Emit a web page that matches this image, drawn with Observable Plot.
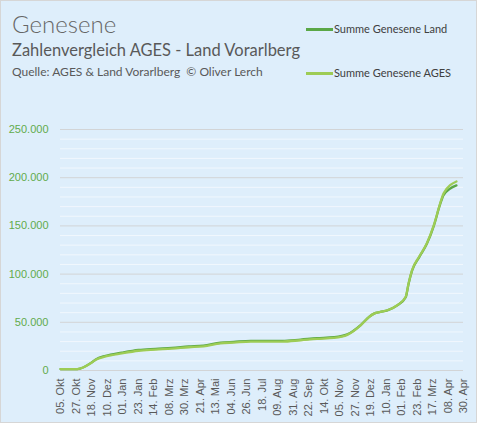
<!DOCTYPE html>
<html>
<head>
<meta charset="utf-8">
<script src="https://cdn.jsdelivr.net/npm/d3@7"></script>
<script src="https://cdn.jsdelivr.net/npm/@observablehq/plot@0.6"></script>
<style>
  html, body { margin: 0; padding: 0; background: #ffffff; }
  #wrap { position: relative; width: 479px; height: 425px; overflow: hidden; }
  #box { position: absolute; left: 0; top: 0; width: 475px; height: 421px; border: 1px solid #d6d6d6; background: #deeefb; }
  #chart { position: absolute; left: 0; top: 0; }
  .t { position: absolute; font-family: Lato, "Open Sans", sans-serif; color: #595959; white-space: nowrap; line-height: 1; }
  #title { left: 12px; top: 12px; font-size: 24px; font-weight: 300; color: #666666; }
  #subtitle { left: 12px; top: 42px; font-size: 16.5px; }
  #source { left: 12px; top: 66px; font-size: 12px; }
  .leg { position: absolute; font-family: Lato, "Open Sans", sans-serif; font-size: 11px; color: #404040; white-space: nowrap; line-height: 1; }
  .sw { position: absolute; width: 27px; height: 2.5px; }
</style>
</head>
<body>
<div id="wrap">
  <div id="box"></div>
  <div id="chart"></div>
  <div class="t" id="title">Genesene</div>
  <div class="t" id="subtitle">Zahlenvergleich AGES - Land Vorarlberg</div>
  <div class="t" id="source">Quelle: AGES &amp; Land Vorarlberg &nbsp;© Oliver Lerch</div>
  <div class="sw" style="left:306px; top:28px; background:#5aa746"></div>
  <div class="leg" style="left:334px; top:23px">Summe Genesene Land</div>
  <div class="sw" style="left:306px; top:72px; background:#9dcc55"></div>
  <div class="leg" style="left:334px; top:67px">Summe Genesene AGES</div>
</div>
<script>
// ---- data ----
const dates = [
  "2020-10-05","2020-10-29","2020-11-18","2020-11-24","2020-12-08","2020-12-31",
  "2021-01-24","2021-02-17","2021-03-12","2021-04-05","2021-04-26","2021-05-20",
  "2021-06-08","2021-07-02","2021-08-16","2021-09-11","2021-10-04","2021-10-28",
  "2021-11-16","2021-12-05","2021-12-17","2021-12-24","2022-01-02","2022-01-12",
  "2022-01-26","2022-02-07","2022-02-11","2022-02-16","2022-02-26","2022-03-09",
  "2022-03-19","2022-03-28","2022-04-02","2022-04-20"
];
const ages = [
  1500, 1500, 8000, 11100, 14600, 17800,
  20500, 21700, 22700, 24100, 25100, 28200,
  29000, 30000, 30000, 31400, 32800, 33800,
  37000, 46900, 55500, 59000, 60700, 62500,
  67700, 76400, 90300, 104200, 118000, 132000,
  151000, 173600, 184000, 196000
];
const land = [
  1500, 1500, 8200, 11500, 15200, 18500,
  21300, 22500, 23500, 24900, 25900, 28800,
  29700, 30700, 30700, 32100, 33500, 34500,
  37500, 47100, 55600, 59000, 60700, 62400,
  67500, 76000, 89800, 103600, 117400, 131400,
  150400, 172800, 182300, 192000
];
const tickLabels = [
  "05. Okt","27. Okt","18. Nov","10. Dez","01. Jan","23. Jan","14. Feb","08. Mrz",
  "30. Mrz","21. Apr","13. Mai","04. Jun","26. Jun","18. Jul","09. Aug","31. Aug",
  "22. Sep","14. Okt","05. Nov","27. Nov","19. Dez","10. Jan","01. Feb","23. Feb",
  "17. Mrz","08. Apr","30. Apr"
];
const yMajor = [0, 50000, 100000, 150000, 200000, 250000];
const yMinor = [10000,20000,30000,40000,60000,70000,80000,90000,110000,120000,130000,140000,160000,170000,180000,190000,210000,220000,230000,240000];

// ---- build ----
const start = new Date(Date.UTC(2020, 9, 5));
const tickDates = tickLabels.map((_, i) => d3.utcDay.offset(start, 22 * i));
const labelMap = new Map(tickDates.map((d, i) => [+d, tickLabels[i]]));
const parse = d3.utcParse("%Y-%m-%d");
const landData = dates.map((d, i) => ({date: parse(d), value: land[i]}));
const agesData = dates.map((d, i) => ({date: parse(d), value: ages[i]}));
const fmt = d => d3.format(",")(d).replace(/,/g, ".");

const chart = Plot.plot({
  width: 479,
  height: 425,
  marginLeft: 60,
  marginRight: 16,
  marginTop: 129,
  marginBottom: 55,
  style: {background: "transparent", fontFamily: "'Liberation Sans', Arial, sans-serif", fontSize: "11px", color: "#595959"},
  x: {type: "utc", domain: [tickDates[0], tickDates[tickDates.length - 1]]},
  y: {domain: [0, 250000]},
  marks: [
    Plot.ruleY(yMinor, {stroke: "#f1f7fd", strokeWidth: 1}),
    Plot.ruleY(yMajor, {stroke: "#d2d4d6", strokeWidth: 1}),
    Plot.axisX({ticks: tickDates, tickFormat: d => labelMap.get(+d), tickRotate: -90, tickSize: 0, tickPadding: 8, label: null, fill: "#595959", fontSize: 11}),
    Plot.axisY({ticks: yMajor, tickFormat: fmt, tickSize: 0, tickPadding: 12, label: null, fill: "#62ab4c", fontSize: 11}),
    Plot.line(landData, {x: "date", y: "value", stroke: "#5aa746", strokeWidth: 2.3, curve: "monotone-x"}),
    Plot.line(agesData, {x: "date", y: "value", stroke: "#9dcc55", strokeWidth: 2.3, curve: "monotone-x"})
  ]
});
document.getElementById("chart").appendChild(chart);
</script>
</body>
</html>
